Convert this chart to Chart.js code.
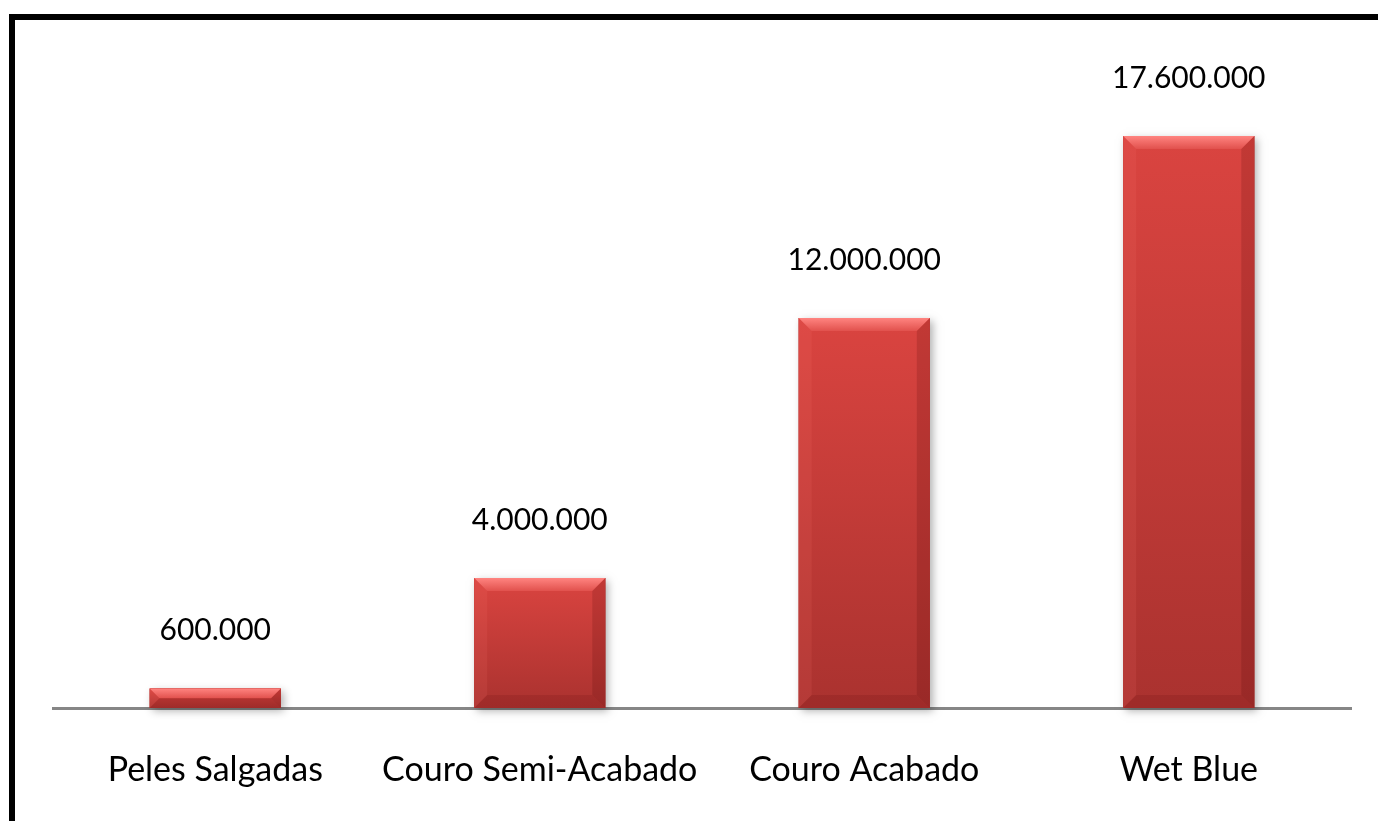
<!DOCTYPE html>
<html>
<head>
<meta charset="utf-8">
<script src="https://cdn.jsdelivr.net/npm/chart.js@4"></script>
<style>
  html, body { margin: 0; padding: 0; background: #fff; }
  #wrap { position: relative; width: 1378px; height: 821px; overflow: hidden; }
  #frame { position: absolute; left: 9px; top: 14px; width: 1400px; height: 900px;
           border-top: 6px solid #000; border-left: 6px solid #000; box-sizing: border-box; }
  canvas { position: absolute; left: 0; top: 0; }
</style>
</head>
<body>
<div id="wrap">
  <div id="frame"></div>
  <canvas id="c" width="1378" height="821"></canvas>
</div>
<script>
const categories = ["Peles Salgadas", "Couro Semi-Acabado", "Couro Acabado", "Wet Blue"];
const values = [600000, 4000000, 12000000, 17600000];
const yMax = 20000000;

function fmt(v) {
  return String(v).replace(/\B(?=(\d{3})+(?!\d))/g, ".");
}

const FONT = "Lato, 'Open Sans', sans-serif";

const bevelPlugin = {
  id: 'bevel',
  afterDatasetsDraw(chart) {
    const ctx = chart.ctx;
    const meta = chart.getDatasetMeta(0);
    meta.data.forEach((bar, i) => {
      const p = bar.getProps(['x', 'y', 'base', 'width'], true);
      const l = p.x - p.width / 2, r = p.x + p.width / 2, t = p.y, b = p.base;
      const h = b - t;
      const bv = Math.min(13, h / 2);
      // shadow
      ctx.save();
      ctx.shadowColor = 'rgba(0,0,0,0.3)';
      ctx.shadowBlur = 8;
      ctx.shadowOffsetX = 3;
      ctx.shadowOffsetY = 3;
      ctx.fillStyle = '#b03431';
      ctx.fillRect(l, t, r - l, h);
      ctx.restore();
      // body gradient
      const g = ctx.createLinearGradient(0, t, 0, b);
      g.addColorStop(0, '#da4440');
      g.addColorStop(1, '#aa322f');
      ctx.fillStyle = g;
      ctx.fillRect(l, t, r - l, h);
      // top bevel
      ctx.beginPath();
      ctx.moveTo(l, t); ctx.lineTo(r, t); ctx.lineTo(r - bv, t + bv); ctx.lineTo(l + bv, t + bv); ctx.closePath();
      const gt = ctx.createLinearGradient(0, t, 0, t + bv);
      gt.addColorStop(0, '#ff8480');
      gt.addColorStop(1, '#e1514d');
      ctx.fillStyle = gt; ctx.fill();
      // left bevel
      ctx.beginPath();
      ctx.moveTo(l, t); ctx.lineTo(l + bv, t + bv); ctx.lineTo(l + bv, b - bv); ctx.lineTo(l, b); ctx.closePath();
      ctx.fillStyle = 'rgba(255,120,115,0.12)'; ctx.fill();
      // right bevel
      ctx.beginPath();
      ctx.moveTo(r, t); ctx.lineTo(r - bv, t + bv); ctx.lineTo(r - bv, b - bv); ctx.lineTo(r, b); ctx.closePath();
      ctx.fillStyle = 'rgba(70,0,0,0.16)'; ctx.fill();
      // bottom bevel
      ctx.beginPath();
      ctx.moveTo(l, b); ctx.lineTo(l + bv, b - bv); ctx.lineTo(r - bv, b - bv); ctx.lineTo(r, b); ctx.closePath();
      ctx.fillStyle = 'rgba(90,10,10,0.14)'; ctx.fill();
      // value label
      ctx.save();
      ctx.fillStyle = '#000';
      ctx.font = '30px ' + FONT;
      ctx.textAlign = 'center';
      ctx.textBaseline = 'middle';
      ctx.fillText(fmt(values[i]), p.x, t - 58);
      ctx.restore();
    });
  }
};

new Chart(document.getElementById('c'), {
  type: 'bar',
  data: {
    labels: categories,
    datasets: [{
      data: values,
      backgroundColor: '#c83c39',
      borderWidth: 0,
      barPercentage: 0.404,
      categoryPercentage: 1.0
    }]
  },
  options: {
    responsive: false,
    animation: false,
    layout: { padding: { left: 53, right: 27, top: 58, bottom: 34 } },
    plugins: { legend: { display: false }, tooltip: { enabled: false } },
    scales: {
      y: { display: false, min: 0, max: yMax, grid: { display: false } },
      x: {
        afterFit: (s) => { s.height = 79; },
        grid: { display: false, drawTicks: false },
        border: { display: true, color: '#868686', width: 3 },
        ticks: { color: '#000', padding: 42, font: { family: FONT, size: 34 } }
      }
    }
  },
  plugins: [bevelPlugin]
});
</script>
</body>
</html>
